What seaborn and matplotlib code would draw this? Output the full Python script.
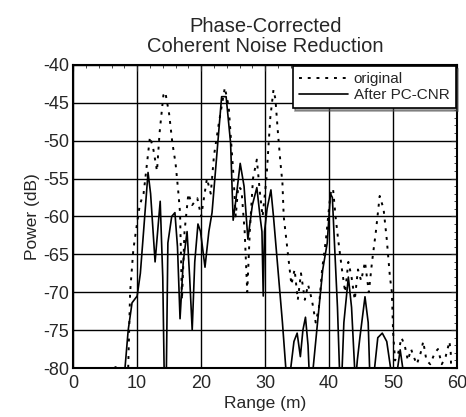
import numpy as np
import matplotlib
matplotlib.use("Agg")
import matplotlib.pyplot as plt
from matplotlib.ticker import MultipleLocator
import seaborn as sns
import pandas as pd

# Range (m) and power (dB); -85 means "below the axis floor"
cnr_range = [7.9, 8.1, 8.6, 9.2, 10.0, 10.5, 11.0, 11.7, 12.1, 12.8, 13.6, 14.0, 14.3, 14.5,
             14.8, 15.4, 15.9, 16.3, 16.7, 17.2, 17.8, 18.2, 18.6, 19.0, 19.5, 19.9, 20.6,
             21.2, 21.7, 22.6, 23.2, 23.9, 24.6, 25.0, 25.4, 26.1, 26.7, 27.3, 28.0, 28.7,
             29.2, 29.5, 29.7, 29.9, 30.3, 30.9, 31.3, 32.0, 32.7, 33.4, 34.0, 34.5, 35.0,
             35.5, 35.9, 36.3, 36.7, 37.1, 37.5, 38.3, 39.0, 39.7, 40.2, 40.5, 40.8, 41.3,
             41.8, 42.3, 43.0, 43.5, 44.1, 44.4, 44.8, 45.6, 46.1, 46.5, 47.1, 47.6, 48.3,
             49.0, 49.6, 50.0, 50.7, 51.1, 51.5, 51.8, 60.0]
cnr_power = [-85, -80, -75, -71.4, -70.5, -67.5, -62, -54.2, -57, -66, -58, -68, -85, -85,
             -63.5, -60, -59.5, -64, -73.5, -66, -62, -68, -75, -66, -61, -62, -66.7,
             -62, -59.5, -50.3, -44.2, -44.2, -50.3, -60.5, -58, -53, -56, -63, -58.5, -56.2,
             -60, -62, -70.5, -62, -59, -56.5, -60, -67, -74, -82, -80, -76.5, -75.4,
             -78.5, -75, -73.3, -77, -85, -80, -73, -67, -63.5, -57, -57.5, -63, -72,
             -85, -74, -68, -72, -82, -79, -76, -70.6, -74, -85, -80, -76, -75.4,
             -76.5, -80, -85, -80, -77.6, -80, -85, -85]

orig_range = [6.3, 6.6, 6.9, 8.4, 8.6, 8.9, 9.4, 9.8, 10.4, 11.0, 11.3, 12.0, 12.5, 13.1,
              13.5, 14.1, 14.4, 15.0, 15.5, 16.0, 16.4, 16.7, 17.0, 17.4, 18.0, 18.6, 19.4,
              20.0, 20.9, 21.5, 22.0, 22.8, 23.7, 24.3, 25.0, 25.4, 25.8, 26.3, 26.8, 27.2,
              27.6, 28.1, 28.7, 29.2, 29.6, 30.2, 30.8, 31.3, 31.6, 32.0, 32.4, 32.7, 32.9,
              33.3, 33.7, 34.1, 34.6, 35.1, 35.6, 36.2, 36.7, 37.3, 37.9, 38.4, 38.9, 39.5,
              40.2, 40.6, 41.0, 41.4, 42.0, 42.5, 43.0, 43.5, 44.0, 44.5, 45.0, 45.6, 46.2,
              46.7, 47.3, 47.9, 48.5, 49.0, 49.5, 49.8, 50.0, 50.3, 50.8, 51.3, 51.8, 52.3,
              52.8, 53.2, 53.7, 54.3, 54.7, 55.2, 55.8, 56.5, 57.0, 57.6, 58.2, 58.8, 59.0, 59.2]
orig_power = [-85, -79.5, -85, -85, -80, -70, -64.4, -62, -58.5, -57, -54.8, -49.5, -51, -54,
              -49, -44, -43.6, -46.5, -50.3, -53, -56.5, -59.5, -71, -62, -57, -58.5, -57.6,
              -60, -55, -57, -52, -47.5, -43, -45.5, -54, -60, -56, -56.5, -62, -70,
              -62, -55, -52.5, -57, -60, -55, -47, -43.3, -44.5, -49, -53, -55.6, -60,
              -63, -66, -69, -67, -71, -67.5, -71, -69, -71, -74, -72, -67, -63,
              -57, -56.3, -60, -63, -67, -70, -66, -68, -71, -67, -68.5, -66, -70,
              -66, -62, -57.3, -59, -63, -68, -70, -75.4, -79, -78, -76, -77, -79,
              -77.5, -78.5, -79.5, -78, -76.5, -79, -79.5, -78, -77.5, -79.5, -78.5, -76.5, -78, -85]

x_ticks = [0, 10, 20, 30, 40, 50, 60]
y_ticks = [-40, -45, -50, -55, -60, -65, -70, -75, -80]

sns.set_style("white")
plt.rcParams['font.family'] = ['Liberation Sans', 'DejaVu Sans']
plt.rcParams['axes.unicode_minus'] = False

df_orig = pd.DataFrame({'range': orig_range, 'power': orig_power})
df_cnr = pd.DataFrame({'range': cnr_range, 'power': cnr_power})

fig = plt.figure(figsize=(4.66, 4.17), dpi=100)
ax = fig.add_axes([0.157, 0.1175, 0.824, 0.727])

sns.lineplot(data=df_orig, x='range', y='power', ax=ax, color='black', linewidth=1.4,
             linestyle=(0, (1.5, 3)), label='original', sort=False)
sns.lineplot(data=df_cnr, x='range', y='power', ax=ax, color='black', linewidth=1.2,
             label='After PC-CNR', sort=False)

ax.set_xlim(0, 60)
ax.set_ylim(-80, -40)
ax.set_xticks(x_ticks)
ax.set_yticks(y_ticks)
ax.xaxis.set_minor_locator(MultipleLocator(2))
ax.yaxis.set_minor_locator(MultipleLocator(1))
ax.grid(True, which='major', color='black', linewidth=1.0)
ax.tick_params(which='both', direction='in', top=True, right=True, labelsize=13)
ax.tick_params(which='major', length=4)
ax.tick_params(which='minor', length=2)
ax.tick_params(axis='x', which='major', pad=5)
ax.tick_params(axis='y', which='major', pad=3)
for s in ax.spines.values():
    s.set_color('black')
    s.set_linewidth(1.5)

ax.set_xlabel('Range (m)', fontsize=12.5, labelpad=3)
ax.set_ylabel('Power (dB)', fontsize=12.5, labelpad=2)
ax.set_title('Phase-Corrected\nCoherent Noise Reduction', fontsize=14.5, linespacing=1.1, pad=9)

leg = ax.legend(loc='upper right', fontsize=11, frameon=True, fancybox=False, shadow=True,
                borderaxespad=0.1, handlelength=3.2, labelspacing=0.1, borderpad=0.4,
                handletextpad=0.4)
leg.get_frame().set_edgecolor('black')
leg.get_frame().set_linewidth(1.2)
leg.get_frame().set_alpha(1)

plt.savefig('out.png', dpi=100)
